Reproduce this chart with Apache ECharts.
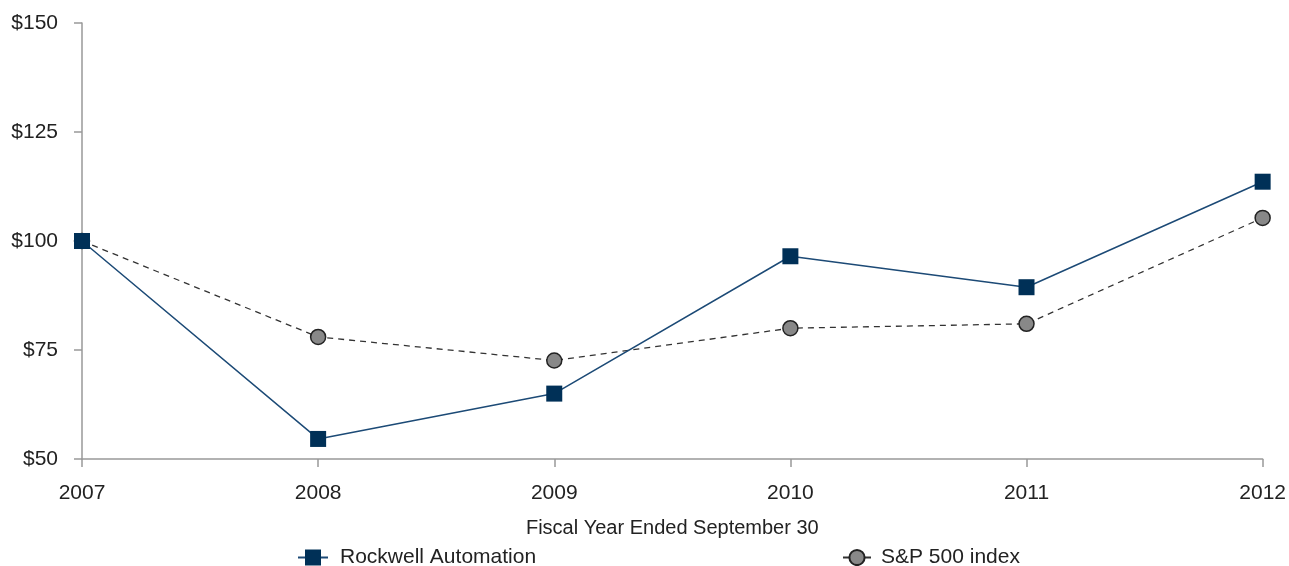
<!DOCTYPE html>
<html><head><meta charset="utf-8">
<script src="https://cdn.jsdelivr.net/npm/echarts@6/dist/echarts.min.js"></script>
<style>html,body{margin:0;padding:0;background:#fff}#c{width:1289px;height:566px}</style>
</head><body><div id="c"></div>
<script>
const years = ['2007','2008','2009','2010','2011','2012'];
const rockwell = [100, 54.6, 65.0, 96.5, 89.4, 113.6];
const sp500 = [100, 78.0, 72.6, 80.0, 81.0, 105.3];
const yTicks = [50, 75, 100, 125, 150];

const chart = echarts.init(document.getElementById('c'));
const font = 'Liberation Sans, Arial, sans-serif';
chart.setOption({
  animation: false,
  textStyle: {fontFamily: font},
  grid: {left: 82, right: 25, top: 23, bottom: 107, containLabel: false},
  legend: [
    {data: ['Rockwell Automation'], left: 297, top: 547, padding: 0, itemWidth: 30, itemHeight: 20, itemGap: 8,
     textStyle: {fontSize: 21, color: '#222', fontFamily: font, padding: [1,0,0,7]}},
    {data: ['S&P 500 index'], left: 842, top: 547, padding: 0, itemWidth: 28, itemHeight: 19, itemGap: 8,
     textStyle: {fontSize: 21, color: '#222', fontFamily: font, padding: [1,0,0,5]}}
  ],
  xAxis: {
    type: 'category', data: years, boundaryGap: false,
    name: 'Fiscal Year Ended September 30', nameLocation: 'middle', nameGap: 59,
    nameTextStyle: {fontSize: 20, color: '#222', fontFamily: font},
    axisLine: {lineStyle: {color: '#999', width: 1.5}},
    axisTick: {show: true, length: 8, lineStyle: {color: '#999', width: 1.5}},
    axisLabel: {fontSize: 21, color: '#222', margin: 24, fontFamily: font}
  },
  yAxis: {
    type: 'value', min: 50, max: 150, interval: 25,
    axisLine: {show: true, lineStyle: {color: '#999', width: 1.5}},
    axisTick: {show: true, length: 8, lineStyle: {color: '#999', width: 1.5}},
    splitLine: {show: false},
    axisLabel: {fontSize: 21, color: '#222', margin: 24, fontFamily: font,
      formatter: v => yTicks.includes(v) ? '$' + v : ''}
  },
  series: [
    {name: 'Rockwell Automation', type: 'line', data: rockwell, symbol: 'rect', symbolSize: 16,
     lineStyle: {color: '#1c4a76', width: 1.5}, itemStyle: {color: '#003057'}, z: 3},
    {name: 'S&P 500 index', type: 'line', data: sp500, symbol: 'circle', symbolSize: 15,
     lineStyle: {color: '#333', width: 1.3, type: [6, 5]},
     itemStyle: {color: '#888', borderColor: '#222', borderWidth: 1.5}, z: 2}
  ]
});
</script></body></html>
